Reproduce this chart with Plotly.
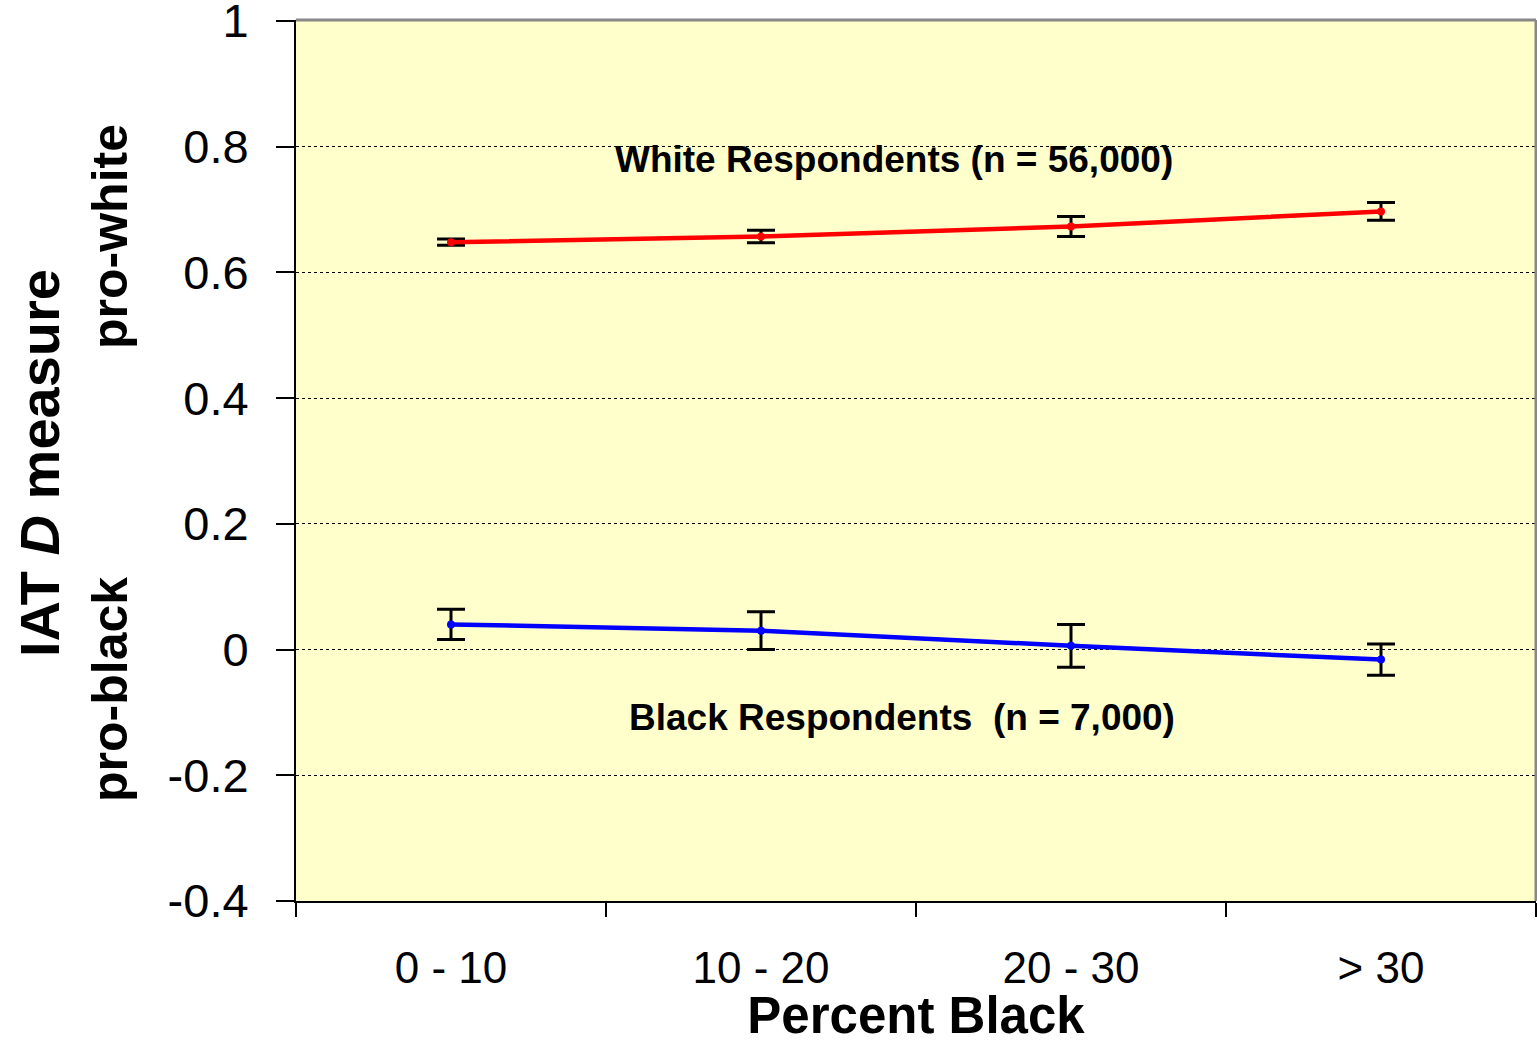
import plotly.graph_objects as go

categories = ["0 - 10", "10 - 20", "20 - 30", "> 30"]
white_values = [0.648, 0.657, 0.673, 0.697]
white_err = [0.005, 0.010, 0.016, 0.014]
black_values = [0.040, 0.030, 0.006, -0.016]
black_err = [0.024, 0.030, 0.034, 0.025]
y_ticks = [-0.4, -0.2, 0, 0.2, 0.4, 0.6, 0.8, 1]
y_tick_text = ["-0.4", "-0.2", "0", "0.2", "0.4", "0.6", "0.8", "1"]

FONT = "Liberation Sans, Arial, sans-serif"
TOP = 20
BOTTOM = 143

fig = go.Figure()
fig.add_trace(go.Scatter(
    x=categories, y=white_values, mode="lines+markers",
    line=dict(color="#FF0000", width=4.5), marker=dict(color="#FF0000", size=8),
    error_y=dict(type="data", array=white_err, color="black", thickness=3, width=14),
    showlegend=False))
fig.add_trace(go.Scatter(
    x=categories, y=black_values, mode="lines+markers",
    line=dict(color="#0000FF", width=4.5), marker=dict(color="#0000FF", size=8),
    error_y=dict(type="data", array=black_err, color="black", thickness=3, width=14),
    showlegend=False))

fig.update_layout(
    width=1537, height=1044,
    margin=dict(l=296, r=1, t=TOP, b=BOTTOM),
    paper_bgcolor="white", plot_bgcolor="#FFFFCC",
    font=dict(family=FONT, color="black"),
    xaxis=dict(
        type="category", range=[-0.5, 3.5], showgrid=False, automargin=False,
        showline=True, linecolor="black", linewidth=2,
        ticks="outside", tickson="boundaries", ticklen=14, tickwidth=2, tickcolor="black",
        tickfont=dict(size=44, family=FONT), ticklabelstandoff=27,
        title=dict(text="<b>Percent Black</b>", font=dict(size=51, family=FONT), standoff=0),
    ),
    yaxis=dict(
        range=[-0.4, 1.0015], tickvals=y_ticks, ticktext=y_tick_text, automargin=False,
        showgrid=True, gridcolor="black", griddash="dot", gridwidth=1, zeroline=False,
        showline=True, linecolor="black", linewidth=2,
        ticks="outside", ticklen=18, tickwidth=2, tickcolor="black",
        tickfont=dict(size=47, family=FONT), ticklabelstandoff=18,
        ticklabeloverflow="allow",
    ),
    shapes=[
        dict(type="line", xref="paper", yref="paper", x0=0, x1=1, y0=1, y1=1,
             line=dict(color="#888888", width=3)),
        dict(type="line", xref="paper", yref="paper", x0=1, x1=1, y0=0, y1=1,
             line=dict(color="#888888", width=3)),
    ],
    annotations=[
        dict(text="<b>White Respondents (n = 56,000)</b>", x=1.43, y=0.78, xref="x", yref="y",
             showarrow=False, font=dict(size=37, family=FONT)),
        dict(text="<b>Black Respondents  (n = 7,000)</b>", x=1.455, y=-0.108, xref="x", yref="y",
             showarrow=False, font=dict(size=37, family=FONT)),
        dict(text="<b>IAT <i>D</i> measure</b>", x=40, y=463, showarrow=False, textangle=-90,
             font=dict(size=56, family=FONT)),
        dict(text="<b>pro-white</b>", x=110, y=237, showarrow=False, textangle=-90,
             font=dict(size=50, family=FONT)),
        dict(text="<b>pro-black</b>", x=110, y=690, showarrow=False, textangle=-90,
             font=dict(size=50, family=FONT)),
    ],
)

# convert pixel-positioned annotations to paper coords
pw = 1537 - 296 - 1
ph = 1044 - TOP - BOTTOM
for a in fig.layout.annotations[2:]:
    px, py = a.x, a.y
    a.x = (px - 296) / pw
    a.y = 1 - (py - TOP) / ph
    a.xref = "paper"
    a.yref = "paper"
    a.xanchor = "center"
    a.yanchor = "middle"

fig.write_html("out.html")
